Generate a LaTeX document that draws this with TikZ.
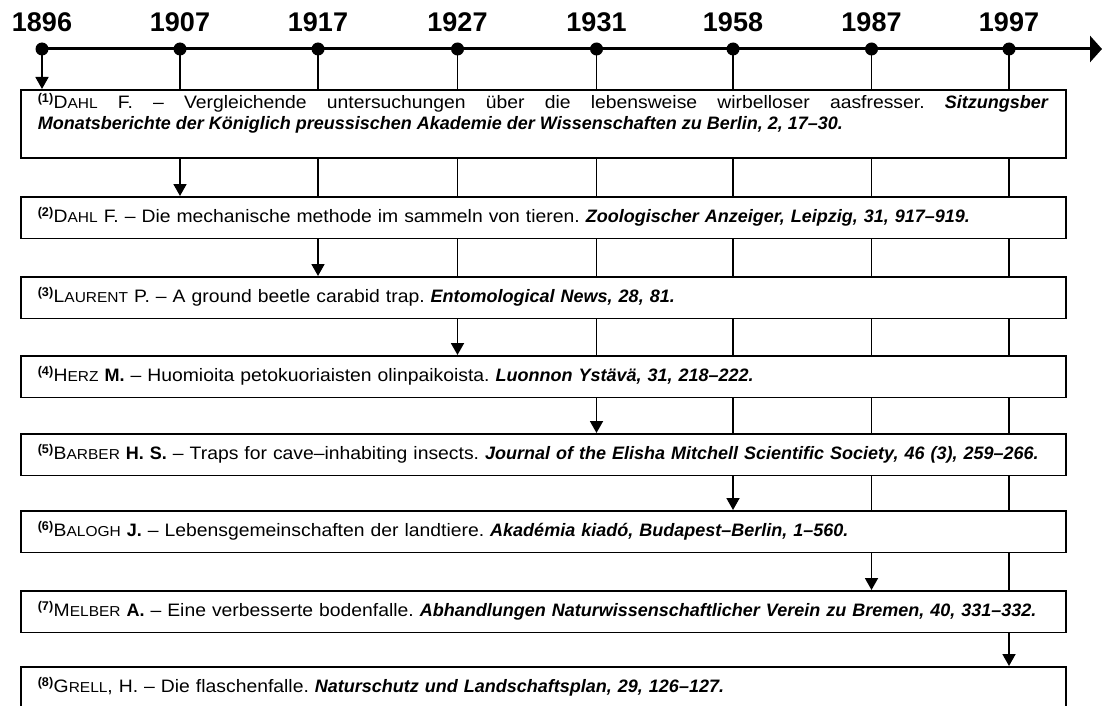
\documentclass[tikz,border=0pt]{standalone}
\usepackage{fontspec}
\setmainfont{Liberation Sans}[UprightFeatures={FakeStretch=1.075}]
\usetikzlibrary{arrows.meta}
\hyphenpenalty=10000
\exhyphenpenalty=10000
\frenchspacing
\newcommand{\smc}[1]{{\fontsize{14.4}{15}\selectfont #1}}
\newcommand{\refnum}[1]{\textsuperscript{\bfseries(#1)}}
\newcommand{\jour}[1]{\textbf{\textit{#1}}}
\begin{document}
\begin{tikzpicture}[x=1pt,y=-1pt,
  year/.style={font=\fontsize{27}{27}\selectfont\bfseries, anchor=base, inner sep=0pt},
  tdot/.style={circle, fill=black, inner sep=0pt, minimum size=13pt},
  refbox/.style={draw, line width=1.6pt, fill=white, anchor=north west, text width=1011pt,
    inner xsep=17pt, inner ysep=0pt, text height=25.5pt, text depth=16pt, align=left,
    font=\fontsize{18}{21}\selectfont},
  conn/.style={line width=1.8pt},
  arr/.style={conn, -{Triangle[length=12pt,width=13pt]}}]
\clip (0,0) rectangle (1102,706);
\fill[white] (0,0) rectangle (1102,706);
% timeline
\foreach \n/\x/\yr in {1/42/1896,2/180/1907,3/318/1917,4/457.5/1927,5/596.5/1931,6/733/1958,7/871.5/1987,8/1009/1997}{
  \node[tdot] (d\n) at (\x,49) {};
  \node[year] (y\n) at (\x,31.5) {\yr};
}
\coordinate (tend) at (1102,49);
\draw[line width=3pt, -{Triangle[length=12pt,width=26pt]}] (d1.center) -- (tend);
% boxes
\node[refbox, align=justify, text height=18.5pt, text depth=49.5pt] (b1) at (20,89)
  {\refnum{1}D\smc{AHL} F. – Vergleichende untersuchungen über die lebensweise wirbelloser aasfresser. \jour{Sitzungsber}\linebreak\jour{Monatsberichte der Königlich preussischen Akademie der Wissenschaften zu Berlin, 2, 17–30.}};
\node[refbox] (b2) at (20,196) {\refnum{2}D\smc{AHL} F. – Die mechanische methode im sammeln von tieren. \jour{Zoologischer Anzeiger, Leipzig, 31, 917–919.}};
\node[refbox] (b3) at (20,276) {\refnum{3}L\smc{AURENT} P. – A ground beetle carabid trap. \jour{Entomological News, 28, 81.}};
\node[refbox] (b4) at (20,355) {\refnum{4}H\smc{ERZ} \textbf{M.} – Huomioita petokuoriaisten olinpaikoista. \jour{Luonnon Ystävä, 31, 218–222.}};
\node[refbox] (b5) at (20,433) {\refnum{5}B\smc{ARBER} \textbf{H. S.} – Traps for cave–inhabiting insects. \jour{Journal of the Elisha Mitchell Scientific Society, 46 (3), 259–266.}};
\node[refbox] (b6) at (20,510) {\refnum{6}B\smc{ALOGH} \textbf{J.} – Lebensgemeinschaften der landtiere. \jour{Akadémia kiadó, Budapest–Berlin, 1–560.}};
\node[refbox] (b7) at (20,590) {\refnum{7}M\smc{ELBER} \textbf{A.} – Eine verbesserte bodenfalle. \jour{Abhandlungen Naturwissenschaftlicher Verein zu Bremen, 40, 331–332.}};
\node[refbox] (b8) at (20,666) {\refnum{8}G\smc{RELL}, H. – Die flaschenfalle. \jour{Naturschutz und Landschaftsplan, 29, 126–127.}};
% connectors
\draw[arr] (d1.center) -- (d1 |- b1.north);
\foreach \j in {2,...,8}{
  \draw[arr] (d\j.center) -- (d\j |- b1.north)
    \foreach \i [count=\p] in {2,...,\j}{ (d\j |- b\p.south) -- (d\j |- b\i.north) };
}
\end{tikzpicture}
\end{document}
